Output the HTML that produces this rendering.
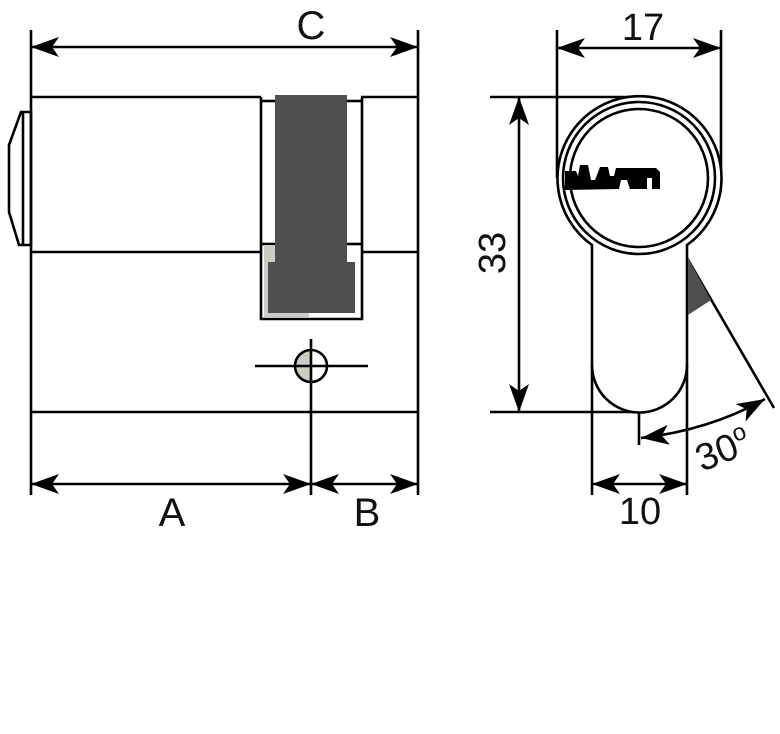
<!DOCTYPE html>
<html><head><style>html,body{margin:0;padding:0;background:#fff;}svg{display:block}
text{font-family:"Liberation Sans",sans-serif;fill:#111;}</style></head>
<body>
<svg width="780" height="734" viewBox="0 0 780 734" xmlns="http://www.w3.org/2000/svg">
<defs>
<marker id="ar" viewBox="0 0 28 20" refX="28" refY="10" markerWidth="28" markerHeight="20" markerUnits="userSpaceOnUse" orient="auto-start-reverse">
<path d="M0,0 L28,10 L0,20 L7,10 Z" fill="#000"/></marker>
</defs>
<g stroke="#000" stroke-width="2.6" fill="none">
<line x1="31" y1="30" x2="31" y2="495"/>
<line x1="418" y1="30" x2="418" y2="495"/>
<line x1="31" y1="97" x2="261" y2="97"/>
<line x1="361" y1="97" x2="418" y2="97"/>
<line x1="31" y1="252" x2="261" y2="252"/>
<line x1="361" y1="252" x2="418" y2="252"/>
<line x1="31" y1="412" x2="418" y2="412"/>
<polyline points="261,97 261,319 362,319 362,97"/>
<line x1="261" y1="101" x2="275" y2="101"/>
<line x1="347" y1="101" x2="361" y2="101"/>
<line x1="261" y1="244" x2="275" y2="244"/>
<line x1="347" y1="244" x2="361" y2="244"/>
<polygon points="31,112 21,112 9,145 9,212 19,245 31,245"/>
<line x1="23" y1="112" x2="23" y2="245"/>
</g>
<rect x="264" y="245" width="12" height="72" fill="#ccccc4"/>
<rect x="264" y="305" width="45" height="12" fill="#ccccc4"/>
<rect x="275" y="95" width="72" height="170" fill="#4f4f4f"/>
<rect x="268" y="262" width="87" height="51" fill="#4f4f4f"/>
<g stroke="#000" stroke-width="2.6" fill="none">
<path d="M311,350 A16,16 0 0 0 311,382 Z" fill="#ccccc4" stroke="none"/>
<circle cx="311" cy="366" r="16"/>
<line x1="255" y1="366" x2="368" y2="366"/>
<line x1="311" y1="339" x2="311" y2="495"/>
<line x1="31" y1="47" x2="418" y2="47" marker-start="url(#ar)" marker-end="url(#ar)"/>
<line x1="31" y1="484" x2="311" y2="484" marker-start="url(#ar)" marker-end="url(#ar)"/>
<line x1="311" y1="484" x2="418" y2="484" marker-start="url(#ar)" marker-end="url(#ar)"/>
<line x1="557" y1="30" x2="557" y2="178"/>
<line x1="721" y1="30" x2="721" y2="178"/>
<line x1="557" y1="48" x2="721" y2="48" marker-start="url(#ar)" marker-end="url(#ar)"/>
<line x1="490" y1="97" x2="640" y2="97"/>
<line x1="490" y1="412" x2="640" y2="412"/>
<line x1="519" y1="97" x2="519" y2="412" marker-start="url(#ar)" marker-end="url(#ar)"/>
<path d="M592,245 A82,82 0 1 1 687,245 L687,365 A47.5,47.5 0 0 1 592,365 Z" fill="#fff"/>
<circle cx="639" cy="178" r="76"/>
<circle cx="639" cy="178" r="69"/>
<line x1="592" y1="365" x2="592" y2="495"/>
<line x1="687" y1="365" x2="687" y2="495"/>
<line x1="592" y1="484" x2="687" y2="484" marker-start="url(#ar)" marker-end="url(#ar)"/>
<line x1="639" y1="413" x2="639" y2="445"/>
<line x1="687" y1="258" x2="774" y2="408"/>
<path d="M641,438 Q710,430 765,399" marker-start="url(#ar)" marker-end="url(#ar)"/>
</g>
<polygon points="688,258 711,300 688,315" fill="#4f4f4f"/>
<path d="M565,171 L576,171 L578,176 L580,165 L588,165 L591,180 L595,180 L597,175 L600,167 L608,167 L610,176 L614,176 L616,168 L656,168 L660,172 L660,189 L652,189 L652,178 L647,178 L647,189 L630,189 L627,180 L621,180 L619,189 L565,190 Z" fill="#000"/>
<text x="311" y="39" font-size="40" text-anchor="middle">C</text>
<text x="172" y="526" font-size="40" text-anchor="middle">A</text>
<text x="367" y="526" font-size="40" text-anchor="middle">B</text>
<text x="643" y="40" font-size="38" text-anchor="middle">17</text>
<text x="640" y="524" font-size="38" text-anchor="middle">10</text>
<text x="0" y="0" font-size="38" text-anchor="middle" transform="translate(505,253) rotate(-90)">33</text>
<text x="0" y="0" font-size="38" transform="translate(702,472) rotate(-22)">30<tspan font-size="24" dy="-15">o</tspan></text>
</svg>
</body></html>
